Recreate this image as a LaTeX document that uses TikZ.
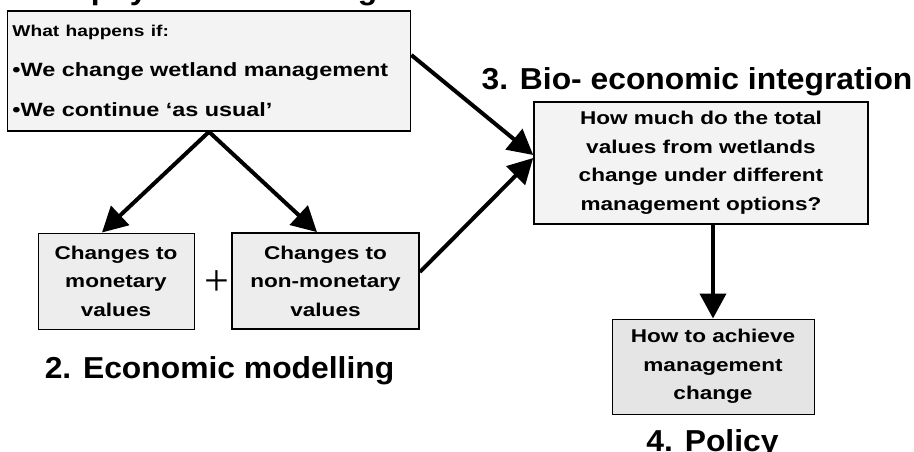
\documentclass[tikz,border=0pt]{standalone}
\usepackage{fontspec}
\usetikzlibrary{arrows.meta}

\newfontfamily\headfont[FakeStretch=1.05]{Liberation Sans}
\newfontfamily\boxfont[FakeStretch=1.22]{Liberation Sans}
\newfontfamily\plusfont{Liberation Serif}

\definecolor{palegrey}{HTML}{F3F3F3}
\definecolor{midgrey}{HTML}{EDEDED}
\definecolor{darkgrey}{HTML}{E5E5E5}

\begin{document}
\begin{tikzpicture}[x=1pt,y=-1pt,
  box/.style={draw=black,line width=1pt,inner sep=0pt,align=center,
    font=\boxfont\bfseries\fontsize{18.5}{28.5}\selectfont},
  heading/.style={inner sep=0pt,anchor=base,
    font=\headfont\bfseries\fontsize{30.3}{32}\selectfont},
  flow/.style={line width=4pt,-{Triangle[length=25pt,width=26pt]}}]

  \useasboundingbox (0,0) rectangle (914,452);
  \clip (0,0) rectangle (914,452);

  % stage headings
  \node[heading] (physhead) at (184,0) {1. Bio-physical modelling};
  \node[heading] (econhead) at (219.5,378) {2. Economic modelling};
  \node[heading] (biohead) at (697,90) {3. Bio- economic integration};
  \node[heading] (policyhead) at (712.5,451) {4. Policy};

  % scenario box
  \node[box,fill=palegrey,line width=1.6pt,align=left,inner xsep=5pt,
    text width=393pt,minimum height=120pt,
    font=\boxfont\bfseries\fontsize{19.2}{40}\selectfont] (whatif) at (209,71)
    {{\fontsize{15.7}{40}\selectfont What happens if:}\\
     •We change wetland management\\
     •We continue ‘as usual’};

  % value boxes
  \node[box,fill=midgrey,minimum width=156pt,minimum height=96pt] (money) at (116,281)
    {Changes to\\monetary\\values};
  \node[box,fill=midgrey,line width=1.8pt,minimum width=187pt,minimum height=96pt] (nonmoney) at (325.5,281)
    {Changes to\\non-monetary\\values};
  \node[inner sep=0pt,font=\plusfont\fontsize{44}{44}\selectfont] (plus) at (217,283) {+};

  \node[box,fill=palegrey,line width=1.6pt,minimum width=334pt,minimum height=122pt] (bio) at (701,163)
    {How much do the total\\values from wetlands\\change under different\\management options?};
  \node[box,fill=darkgrey,minimum width=202pt,minimum height=95pt] (policy) at (713,366.5)
    {How to achieve\\management\\change};

  % arrows
  \draw[flow] (whatif.south) -- ([xshift=-14pt]money.north);
  \draw[flow] (whatif.south) -- ([xshift=-8.5pt]nonmoney.north);
  \draw[flow] ([yshift=16pt]whatif.east) -- ([yshift=8pt]bio.west);
  \draw[flow] ([yshift=9pt]nonmoney.east) -- ([yshift=5pt]bio.west);
  \draw[flow] (bio.south -| policy.north) -- (policy.north);
\end{tikzpicture}
\end{document}
